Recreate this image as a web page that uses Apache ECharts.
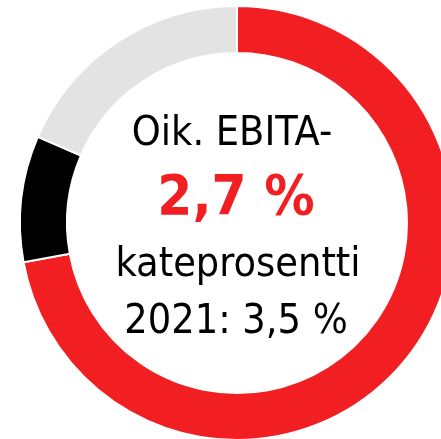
<!DOCTYPE html>
<html>
<head>
<meta charset="utf-8">
<script src="https://cdn.jsdelivr.net/npm/echarts@6/dist/echarts.min.js"></script>
<style>
  html, body { margin: 0; padding: 0; background: #fff; }
  #chart { width: 441px; height: 439px; }
</style>
</head>
<body>
<div id="chart"></div>
<script>
// osuudet (arvioitu kuvasta)
const segmentNames = ['EBITA', 'Muu', 'Loput']
const segmentValues = [72.1, 9.4, 18.5]
const segmentColors = ['#f21f22', '#000000', '#e2e3e2']
const centerLines = ['Oik. EBITA-', '2,7 %', 'kateprosentti', '2021: 3,5 %']

let chart = echarts.init(document.getElementById('chart'))
let font = '"DejaVu Sans Condensed", "DejaVu Sans", sans-serif'

let option = {
    backgroundColor: '#fff',
    animation: false,
    series: [
        {
            type: 'pie',
            center: [237, 223],
            radius: [170, 217],
            startAngle: 90,
            clockwise: true,
            silent: true,
            label: { show: false },
            labelLine: { show: false },
            itemStyle: {
                borderColor: '#fff',
                borderWidth: 2
            },
            data: segmentNames.map((n, i) => ({
                name: n,
                value: segmentValues[i],
                itemStyle: { color: segmentColors[i] }
            }))
        }
    ],
    graphic: [
        { type: 'text', x: 232, y: 134, style: { text: centerLines[0], fill: '#000', font: '41px ' + font, textAlign: 'center', textVerticalAlign: 'middle' } },
        { type: 'text', x: 236, y: 199, style: { text: centerLines[1], fill: '#f21f22', font: 'bold 56px ' + font, textAlign: 'center', textVerticalAlign: 'middle' } },
        { type: 'text', x: 238, y: 265, style: { text: centerLines[2], fill: '#000', font: '41px ' + font, textAlign: 'center', textVerticalAlign: 'middle' } },
        { type: 'text', x: 236, y: 322, style: { text: centerLines[3], fill: '#000', font: '41px ' + font, textAlign: 'center', textVerticalAlign: 'middle' } }
    ]
}
chart.setOption(option)
</script>
</body>
</html>
